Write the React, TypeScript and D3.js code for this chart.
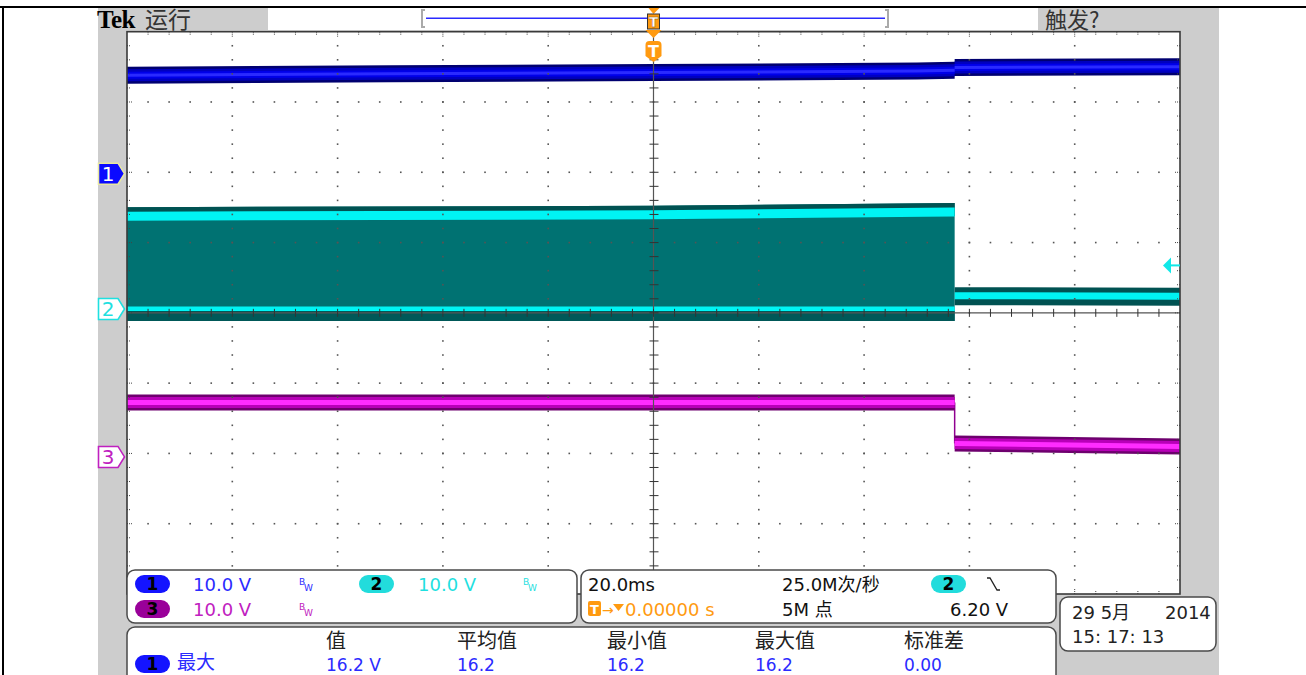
import React from 'react';
import * as d3 from 'd3';

// ---------- data (read from the scope screen) ----------
// time axis in ms, 20 ms/div, trigger at centre
const timeRangeMs = [-100, 100];
const voltsPerDiv = [10.0, 10.0, 10.0];
const channelOffsetDiv = [1.98, 0.055, -2.05];
const triggerLevelV = 6.2;

const ch1Times = [-100, -50, 0, 50, 57.2, 57.2, 100];
const ch1Volts = [14.0, 14.2, 14.4, 14.6, 14.7, 15.1, 15.2];

const ch2Times = [-100, 0, 57.2];
const ch2High = [13.2, 13.4, 13.8];
const ch2Low = [0.0, 0.0, 0.0];
const ch2AfterTimes = [57.2, 100];
const ch2After = [1.9, 1.8];

const ch3Times = [-100, 0, 57.2, 57.2, 100];
const ch3Volts = [7.75, 7.75, 7.75, 1.92, 1.5];

const channelLabels = ['1', '2', '3'];
const channelScaleText = ['10.0 V', '10.0 V', '10.0 V'];
const timebaseText = '20.0ms';
const sampleRateText = '25.0M次/秒';
const triggerPosText = '0.00000 s';
const recordText = '5M 点';
const triggerLevelText = '6.20 V';
const measureHeaders = ['值', '平均值', '最小值', '最大值', '标准差'];
const measureRowLabel = '最大';
const measureValues = ['16.2 V', '16.2', '16.2', '16.2', '0.00'];
const dateLine1 = ['29 5月', '2014'];
const dateLine2 = '15: 17: 13';

const SANS = "'DejaVu Sans', 'Noto Sans CJK SC', sans-serif";
const CJK = "'Noto Sans CJK SC', 'DejaVu Sans', sans-serif";

const C1 = '#2b2bff';
const C2 = '#1fe0e0';
const C3 = '#c020c0';
const ORANGE = '#ff9a10';

export default function App() {
  const L = 127, R = 1180, T = 31.7, B = 594;
  const x = d3.scaleLinear().domain(timeRangeMs).range([L, R]);
  const xDiv = d3.scaleLinear().domain([-5, 5]).range([L, R]);
  const yDiv = d3.scaleLinear().domain([-4, 4]).range([B, T]);
  const yCh = (i: number) => (v: number) => yDiv(channelOffsetDiv[i] + v / voltsPerDiv[i]);
  const y1 = yCh(0), y2 = yCh(1), y3 = yCh(2);

  const band = (sc: (v: number) => number, up: number, down: number) =>
    d3.area<[number, number]>()
      .x(d => x(d[0]))
      .y0(d => sc(d[1]) + down)
      .y1(d => sc(d[1]) - up);

  const ch1 = ch1Times.map((t, i) => [t, ch1Volts[i]] as [number, number]);
  const ch2H = ch2Times.map((t, i) => [t, ch2High[i]] as [number, number]);
  const ch2L = ch2Times.map((t, i) => [t, ch2Low[i]] as [number, number]);
  const ch2A = ch2AfterTimes.map((t, i) => [t, ch2After[i]] as [number, number]);
  const ch3 = ch3Times.map((t, i) => [t, ch3Volts[i]] as [number, number]);

  const envArea = d3.area<number>()
    .x(i => x(ch2Times[i]))
    .y0(i => y2(ch2Low[i]) + 12)
    .y1(i => y2(ch2High[i]) - 9);

  // graticule
  const minorX = d3.range(1, 50).map(i => xDiv(-5 + i / 5));
  const minorY = d3.range(1, 40).map(i => yDiv(-4 + i / 5));
  const majorX = [-4, -3, -2, -1, 1, 2, 3, 4].map(k => xDiv(k));
  const majorY = [-3, -2, -1, 1, 2, 3].map(k => yDiv(k));
  const cx = xDiv(0), cy = yDiv(0);

  const dots: JSX.Element[] = [];
  majorX.forEach((gx, a) => minorY.forEach((gy, b) => dots.push(<rect key={`v${a}-${b}`} x={gx - 0.8} y={gy - 0.8} width={1.6} height={1.6} fill="#555" />)));
  majorY.forEach((gy, a) => minorX.forEach((gx, b) => dots.push(<rect key={`h${a}-${b}`} x={gx - 0.8} y={gy - 0.8} width={1.6} height={1.6} fill="#555" />)));

  const pill = (px: number, py: number, w: number, h: number, fill: string, label: string, key: string) => (
    <g key={key}>
      <rect x={px} y={py} width={w} height={h} rx={h / 2} fill={fill} />
      <text x={px + w / 2} y={py + h - 3} textAnchor="middle" fontFamily={SANS} fontSize={17} fontWeight="bold" fill="#000">{label}</text>
    </g>
  );
  const bw = (px: number, py: number, col: string) => (
    <g fill={col} fontFamily={SANS} fontSize={9}>
      <text x={px} y={py}>B</text>
      <text x={px + 5} y={py + 6}>W</text>
    </g>
  );
  const marker = (yc: number, fill: string, stroke: string, txt: string, tcol: string) => (
    <g>
      <path d={`M98.5,${yc - 10.5} H118 L124.5,${yc} L118,${yc + 10.5} H98.5 Z`} fill={fill} stroke={stroke} strokeWidth={1.6} />
      <text x={108} y={yc + 7.5} textAnchor="middle" fontFamily={SANS} fontSize={20} fill={tcol}>{txt}</text>
    </g>
  );

  const tx = x(0);
  const trigY = y2(triggerLevelV);
  const colX = [326, 457, 607, 755, 904];

  return (
    <svg width={1306} height={675} style={{ position: 'absolute', left: 0, top: 0, background: '#fff' }}>
      {/* page frame */}
      <rect x={0} y={0} width={1306} height={675} fill="#fff" />
      <rect x={0} y={6} width={1306} height={2} fill="#000" />
      <rect x={2} y={6} width={2} height={669} fill="#000" />

      {/* scope grey background */}
      <rect x={98} y={8} width={1121} height={667} fill="#cdcdcd" />
      {/* header */}
      <rect x={268} y={8} width={770} height={22} fill="#fff" />
      <line x1={426} x2={885} y1={18.3} y2={18.3} stroke="#2a2aff" strokeWidth={1.5} />
      <path d="M425,10 H422 V27 H425" fill="none" stroke="#aaa" strokeWidth={2} />
      <path d="M885,10 H888 V27 H885" fill="none" stroke="#aaa" strokeWidth={2} />
      <text x={97} y={28} fontFamily="'Liberation Serif', serif" fontWeight="bold" fontSize={25} fill="#000" letterSpacing={-0.5}>Tek</text>
      <text x={145} y={28} fontFamily={CJK} fontSize={23} fill="#333">运行</text>
      <text x={1045} y={28} fontFamily={CJK} fontSize={22} fill="#333">触发?</text>

      {/* plot area */}
      <rect x={L} y={T} width={R - L} height={B - T} fill="#fff" />

      {/* ch1 trace */}
      <path d={band(y1, 8.5, 8.5)(ch1) || ''} fill="#000070" />
      <path d={band(y1, 6, 6)(ch1) || ''} fill="#0000c0" />
      <path d={band(y1, 3.5, 3.5)(ch1) || ''} fill="#0000ea" />
      <path d={band(y1, 1.5, 1.5)(ch1) || ''} fill="#2a2aff" />

      {/* ch2 trace: switching envelope before the step */}
      <path d={envArea(d3.range(ch2Times.length)) || ''} fill="#007272" />
      <path d={band(y2, 9, 4)(ch2H) || ''} fill="#005252" />
      <path d={band(y2, 4.5, 4.5)(ch2H) || ''} fill="#00f4f4" />
      <path d={band(y2, -2, 12)(ch2L) || ''} fill="#005858" />
      <path d={band(y2, 2.5, 2)(ch2L) || ''} fill="#00f4f4" />
      {/* ch2 after the step */}
      <path d={band(y2, 8.5, 9.5)(ch2A) || ''} fill="#005252" />
      <path d={band(y2, 3.5, 3.5)(ch2A) || ''} fill="#00f4f4" />

      {/* ch3 trace */}
      <line x1={x(ch3Times[2])} x2={x(ch3Times[3])} y1={y3(ch3Volts[2])} y2={y3(ch3Volts[3])} stroke="#900090" strokeWidth={1.5} />
      <path d={band(y3, 8, 8)(ch3) || ''} fill="#6e006e" />
      <path d={band(y3, 5.5, 5.5)(ch3) || ''} fill="#b800b8" />
      <path d={band(y3, 2.5, 2.5)(ch3) || ''} fill="#ff2cff" />

      {/* graticule */}
      {dots}
      <line x1={cx} x2={cx} y1={T} y2={B} stroke="#555" strokeWidth={1.2} />
      <line x1={L} x2={R} y1={cy} y2={cy} stroke="#555" strokeWidth={1.2} />
      {minorY.map((gy, i) => <line key={`cyt${i}`} x1={cx - 4} x2={cx + 5} y1={gy} y2={gy} stroke="#333" strokeWidth={1} />)}
      {minorX.map((gx, i) => <line key={`cxt${i}`} x1={gx} x2={gx} y1={cy - 4} y2={cy + 4} stroke="#333" strokeWidth={1} />)}
      {minorX.map((gx, i) => {
        const len = (i + 1) % 5 === 0 ? 6 : 3;
        return <g key={`bx${i}`} stroke="#444" strokeWidth={1} strokeDasharray="1 1">
          <line x1={gx} x2={gx} y1={T} y2={T + len} />
          <line x1={gx} x2={gx} y1={B} y2={B - len} />
        </g>;
      })}
      {minorY.map((gy, i) => {
        const len = (i + 1) % 5 === 0 ? 6 : 3;
        return <g key={`by${i}`} stroke="#444" strokeWidth={1} strokeDasharray="1 1">
          <line x1={L} x2={L + len} y1={gy} y2={gy} />
          <line x1={R} x2={R - len} y1={gy} y2={gy} />
        </g>;
      })}
      <rect x={L} y={T} width={R - L} height={B - T} fill="none" stroke="#3a3a3a" strokeWidth={1.6} />

      {/* trigger level arrow */}
      <path d={`M${R - 17},${trigY} L${R - 9},${trigY - 8} L${R - 9},${trigY + 8} Z`} fill="#10e8e8" />
      <line x1={R - 9} x2={R} y1={trigY} y2={trigY} stroke="#10e8e8" strokeWidth={2} />

      {/* trigger position markers */}
      <path d={`M${tx - 5},8 H${tx + 6} L${tx},14 Z`} fill={ORANGE} />
      <rect x={tx - 6} y={14} width={12} height={15} fill={ORANGE} stroke="#333" strokeWidth={1} />
      <text x={tx} y={27} textAnchor="middle" fontFamily={SANS} fontWeight="bold" fontSize={14} fill="#fff" stroke="#8a5000" strokeWidth={0.4}>T</text>
      <path d={`M${tx - 8},30 H${tx + 8} L${tx},38 Z`} fill={ORANGE} />
      <path d={`M${tx - 8},45 Q${tx - 8},41 ${tx - 4},41 H${tx + 4} Q${tx + 8},41 ${tx + 8},45 V56 L${tx},62 L${tx - 8},56 Z`} fill={ORANGE} />
      <text x={tx} y={57} textAnchor="middle" fontFamily={SANS} fontWeight="bold" fontSize={16} fill="#fff">T</text>

      {/* channel ground markers */}
      {marker(y1(0), '#0a0aff', '#e8e8a0', channelLabels[0], '#fff')}
      {marker(y2(0), '#fff', C2, channelLabels[1], C2)}
      {marker(y3(0), '#fff', C3, channelLabels[2], C3)}

      {/* bottom panel 1: channel settings */}
      <rect x={127} y={570} width={450} height={53} rx={8} fill="#fff" stroke="#4a4a4a" strokeWidth={1.5} />
      {pill(135, 575, 35, 18, '#1414ff', channelLabels[0], 'p1')}
      <text x={193} y={591} fontFamily={SANS} fontSize={18} fill={C1}>{channelScaleText[0]}</text>
      {bw(299, 585, C1)}
      {pill(359, 575, 35, 18, '#22dcdc', channelLabels[1], 'p2')}
      <text x={418} y={591} fontFamily={SANS} fontSize={18} fill={C2}>{channelScaleText[1]}</text>
      {bw(523, 585, C2)}
      {pill(135, 600, 35, 18, '#990099', channelLabels[2], 'p3')}
      <text x={193} y={616} fontFamily={SANS} fontSize={18} fill={C3}>{channelScaleText[2]}</text>
      {bw(299, 610, C3)}

      {/* bottom panel 2: timebase / trigger */}
      <rect x={581} y={570} width={475} height={53} rx={8} fill="#fff" stroke="#4a4a4a" strokeWidth={1.5} />
      <text x={588} y={591} fontFamily={SANS} fontSize={18} fill="#111">{timebaseText}</text>
      <text x={782} y={591} fontFamily={SANS} fontSize={18} fill="#111">{sampleRateText}</text>
      {pill(931, 575, 35, 18, '#22dcdc', channelLabels[1], 'p2b')}
      <path d="M987,578 H990 L997,590 H1000" fill="none" stroke="#222" strokeWidth={1.3} />
      <rect x={588} y={601} width={13} height={15} rx={2} fill={ORANGE} />
      <text x={594.5} y={614} textAnchor="middle" fontFamily={SANS} fontWeight="bold" fontSize={13} fill="#fff">T</text>
      <text x={602} y={615} fontFamily={SANS} fontSize={14} fill={ORANGE}>→</text>
      <path d="M613,604 H624 L618.5,611 Z" fill={ORANGE} />
      <text x={625} y={616} fontFamily={SANS} fontSize={18} fill={ORANGE}>{triggerPosText}</text>
      <text x={782} y={616} fontFamily={SANS} fontSize={18} fill="#111">{recordText}</text>
      <text x={950} y={616} fontFamily={SANS} fontSize={18} fill="#111">{triggerLevelText}</text>

      {/* bottom panel 3: measurements */}
      <rect x={127} y={627} width={929} height={70} rx={8} fill="#fff" stroke="#4a4a4a" strokeWidth={1.5} />
      {measureHeaders.map((h, i) => (
        <text key={`mh${i}`} x={colX[i]} y={648} fontFamily={CJK} fontSize={20} fill="#222">{h}</text>
      ))}
      {pill(135, 655, 35, 18, '#1414ff', channelLabels[0], 'p1m')}
      <text x={177} y={669} fontFamily={CJK} fontSize={19} fill={C1}>{measureRowLabel}</text>
      {measureValues.map((v, i) => (
        <text key={`mv${i}`} x={colX[i]} y={671} fontFamily={SANS} fontSize={17} fill={C1}>{v}</text>
      ))}

      {/* bottom panel 4: date */}
      <rect x={1060} y={597} width={156} height={54} rx={8} fill="#fff" stroke="#4a4a4a" strokeWidth={1.5} />
      <text x={1072} y={619} fontFamily={SANS} fontSize={18} fill="#222">{dateLine1[0]}</text>
      <text x={1165} y={619} fontFamily={SANS} fontSize={18} fill="#222">{dateLine1[1]}</text>
      <text x={1072} y={643} fontFamily={SANS} fontSize={18} fill="#222">{dateLine2}</text>
    </svg>
  );
}
